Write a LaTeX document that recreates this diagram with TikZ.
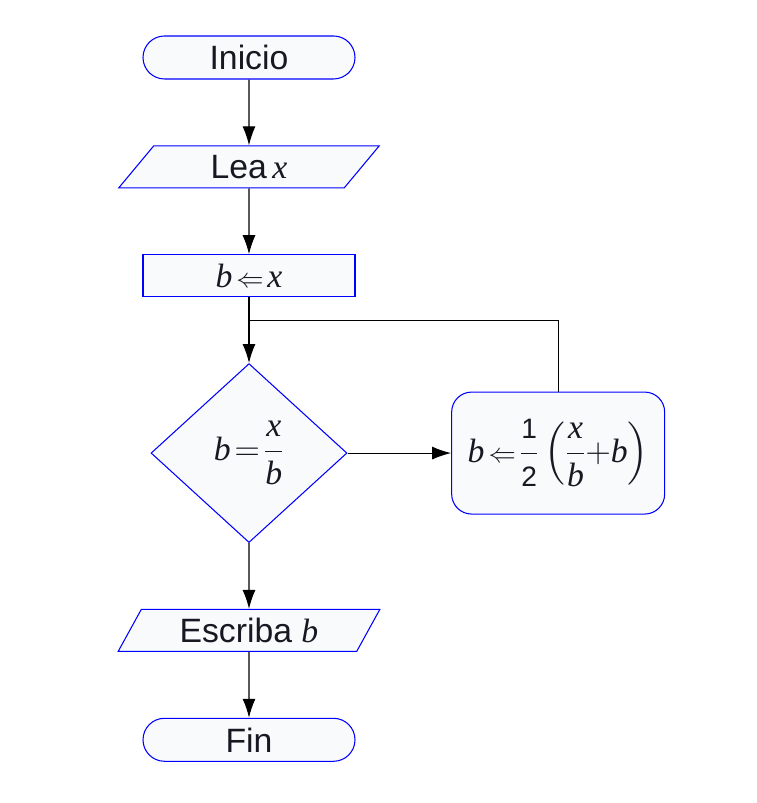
\documentclass[tikz,border=0pt]{standalone}
\usepackage{amsmath}
\usepackage{fontspec}
\setmainfont{Liberation Sans}
\newfontfamily\serifmath{Liberation Serif}
\usetikzlibrary{arrows.meta,positioning,shapes.geometric}
\definecolor{shapefill}{RGB}{248,250,252}
\definecolor{inktext}{RGB}{22,24,34}
\newcommand{\mv}[1]{\text{\serifmath\itshape #1}}
\newcommand{\cifra}[1]{\text{\fontsize{20pt}{22pt}\selectfont #1}}
\newcommand{\asigna}{\mkern2mu\scalebox{0.78}{$\Leftarrow$}\mkern2mu}

\begin{document}
\begin{tikzpicture}[node distance=16.45mm and 25.9mm,
    font=\fontsize{24pt}{28pt}\selectfont,
    base/.style={draw=blue,line width=0.75pt,fill=shapefill,text=inktext,inner sep=0pt},
    term/.style={base,rounded corners=5.375mm,minimum width=53mm,minimum height=10.75mm},
    io/.style={base,trapezium,trapezium left angle=59,trapezium right angle=121,trapezium stretches=true,minimum width=65.5mm,minimum height=10.5mm},
    proc/.style={base,minimum width=53mm,minimum height=10.5mm},
    cond/.style={base,diamond,minimum width=49mm,minimum height=44.75mm},
    calc/.style={base,rounded corners=5mm,minimum width=53.25mm,minimum height=30.5mm},
    arr/.style={-{Latex[length=4.75mm,width=3.25mm]},line width=0.8pt}]
    \useasboundingbox (-6.225,1.4375) rectangle (12.675,-18.6375);
    \node[term] (inicio) {Inicio};
    \node[io,below=of inicio] (lea) {Lea\,\serifmath\itshape x};
    \node[proc,below=of lea] (asig) {$\mv{b}\asigna\mv{x}$};
    \node[cond,below=of asig] (prueba) {$\mv{b}\mkern2mu{=}\mkern2mu\dfrac{\mv{x}}{\mv{b}}$};
    \node[calc,right=of prueba] (nuevo) {$\mv{b}\asigna\dfrac{\cifra{1}}{\cifra{2}}\left(\dfrac{\mv{x}}{\mv{b}}{+}\mv{b}\right)$};
    \node[io,below=of prueba] (escriba) {Escriba {\serifmath\itshape b}};
    \node[term,below=of escriba] (fin) {Fin};
    \coordinate[below=5.75mm of asig] (union);
    \draw[arr] (inicio)--(lea); \draw[arr] (lea)--(asig);
    \draw[arr] (asig)--(prueba); \draw[arr] (prueba)--(nuevo);
    \draw[arr] (prueba)--(escriba); \draw[arr] (escriba)--(fin);
    \draw[line width=0.8pt] (nuevo)|-(union);
\end{tikzpicture}
\end{document}
